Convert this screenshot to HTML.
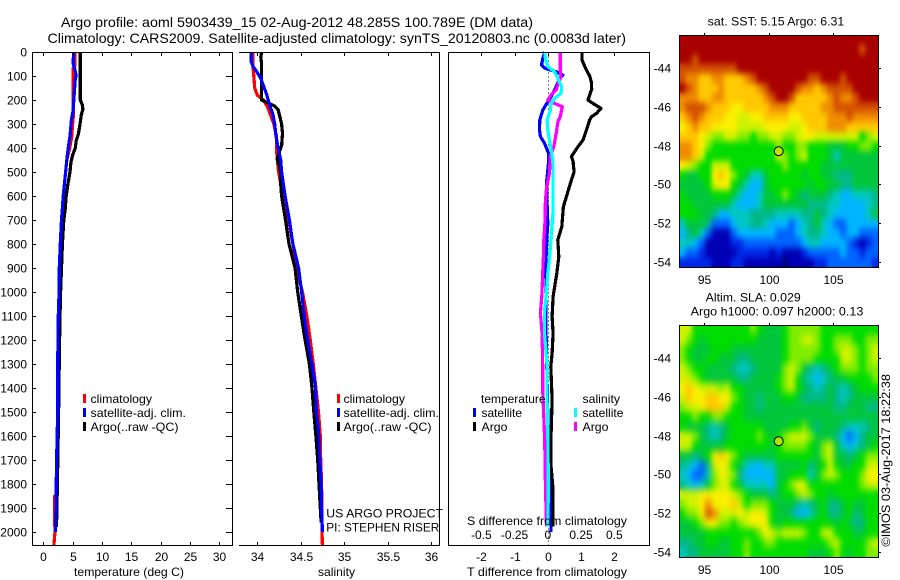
<!DOCTYPE html>
<html>
<head>
<meta charset="utf-8">
<title>Argo profile</title>
<style>
html,body{margin:0;padding:0;background:#fff;}
svg{display:block;}
text{font-family:"Liberation Sans",sans-serif;font-size:12px;fill:#000;}
.t14{font-size:14px;}
</style>
</head>
<body>
<svg id="fig" width="900" height="580" viewBox="0 0 900 580" xmlns="http://www.w3.org/2000/svg">
<defs>
<filter id="soft1" x="0" y="0" width="100%" height="100%" color-interpolation-filters="sRGB"><feGaussianBlur in="SourceGraphic" stdDeviation="2.2 3.1" result="b"/><feMerge><feMergeNode in="SourceGraphic"/><feMergeNode in="b"/></feMerge></filter>
<filter id="soft2" x="0" y="0" width="100%" height="100%" color-interpolation-filters="sRGB"><feGaussianBlur in="SourceGraphic" stdDeviation="2.6 3.8" result="b"/><feMerge><feMergeNode in="SourceGraphic"/><feMergeNode in="b"/></feMerge></filter>
</defs>
<rect width="900" height="580" fill="#fff"/>

<text class="t14" x="61" y="27" textLength="472" lengthAdjust="spacingAndGlyphs">Argo profile: aoml 5903439_15 02-Aug-2012 48.285S 100.789E (DM data)</text>
<text class="t14" x="47.5" y="43" textLength="578.5" lengthAdjust="spacingAndGlyphs">Climatology: CARS2009. Satellite-adjusted climatology: synTS_20120803.nc (0.0083d later)</text>

<g id="panelT"></g>
<g id="panelS"></g>
<g id="panelD"></g>
<g id="mapSST"></g>
<g id="mapSLA"></g>

<text x="74" y="576" textLength="110" lengthAdjust="spacingAndGlyphs">temperature (deg C)</text>
<text x="318" y="576" textLength="37" lengthAdjust="spacingAndGlyphs">salinity</text>
<text x="467" y="576" textLength="160" lengthAdjust="spacingAndGlyphs">T difference from climatology</text>
<text x="467" y="525" textLength="160" lengthAdjust="spacingAndGlyphs">S difference from climatology</text>

<g>
<rect x="83" y="394" width="3" height="9" fill="#f00"/>
<text x="90.5" y="403" textLength="61.5" lengthAdjust="spacingAndGlyphs">climatology</text>
<rect x="83" y="408" width="3" height="9" fill="#00f"/>
<text x="90.5" y="417" textLength="95.5" lengthAdjust="spacingAndGlyphs">satellite-adj. clim.</text>
<rect x="83" y="422" width="3" height="9" fill="#000"/>
<text x="90.5" y="431" textLength="88" lengthAdjust="spacingAndGlyphs">Argo(..raw -QC)</text>
</g>
<g>
<rect x="337" y="394" width="3" height="9" fill="#f00"/>
<text x="343.5" y="403" textLength="61.5" lengthAdjust="spacingAndGlyphs">climatology</text>
<rect x="337" y="408" width="3" height="9" fill="#00f"/>
<text x="343.5" y="417" textLength="95.5" lengthAdjust="spacingAndGlyphs">satellite-adj. clim.</text>
<rect x="337" y="422" width="3" height="9" fill="#000"/>
<text x="343.5" y="431" textLength="88" lengthAdjust="spacingAndGlyphs">Argo(..raw -QC)</text>
</g>
<g>
<text x="481" y="403" textLength="64.5" lengthAdjust="spacingAndGlyphs">temperature</text>
<rect x="473" y="408" width="3" height="9" fill="#00f"/>
<text x="481.5" y="417" textLength="40.5" lengthAdjust="spacingAndGlyphs">satellite</text>
<rect x="473" y="422" width="3" height="9" fill="#000"/>
<text x="481.5" y="431" textLength="26" lengthAdjust="spacingAndGlyphs">Argo</text>
<text x="582.5" y="403" textLength="37.5" lengthAdjust="spacingAndGlyphs">salinity</text>
<rect x="574" y="408" width="3" height="9" fill="#0ff"/>
<text x="582.5" y="417" textLength="41" lengthAdjust="spacingAndGlyphs">satellite</text>
<rect x="574" y="422" width="3" height="9" fill="#f0f"/>
<text x="582.5" y="431" textLength="26" lengthAdjust="spacingAndGlyphs">Argo</text>
</g>

<text x="326.3" y="517.7" textLength="116.7" lengthAdjust="spacingAndGlyphs">US ARGO PROJECT</text>
<text x="326.3" y="531.7" textLength="113" lengthAdjust="spacingAndGlyphs">PI: STEPHEN RISER</text>

<text x="707.7" y="25.7" textLength="136.6" lengthAdjust="spacingAndGlyphs">sat. SST: 5.15 Argo: 6.31</text>
<text x="705.7" y="301.7" textLength="95" lengthAdjust="spacingAndGlyphs">Altim. SLA: 0.029</text>
<text x="690.7" y="315.3" textLength="172.6" lengthAdjust="spacingAndGlyphs">Argo h1000: 0.097 h2000: 0.13</text>
<text transform="translate(890 546.7) rotate(-90)" x="0" y="0" textLength="172.7" lengthAdjust="spacingAndGlyphs">©IMOS 03-Aug-2017 18:22:38</text>
</svg>

<script>
// ---------- axis tick labels ----------
var depthTicks = [0,100,200,300,400,500,600,700,800,900,1000,1100,1200,1300,1400,1500,1600,1700,1800,1900,2000];
var tempTicks = [0,5,10,15,20,25,30];
var salTicks = [34,34.5,35,35.5,36];
var tDiffTicks = [-2,-1,0,1,2];
var sDiffTicks = [-0.5,-0.25,0,0.25,0.5];
var lonTicks = [95,100,105];
var latTicks = [-44,-46,-48,-50,-52,-54];

// ---------- temperature profiles ----------
var tempClimDepth = [0,60,70,100,200,230,260,300,350,400,450,500,550,600,650,700,800,900,1000,1100,1300,1500,1700,1845,1850,1950,2000,2055];
var tempClimValues = [5.35,5.35,5.05,5.1,5.05,5.1,5.15,5.0,4.85,4.5,4.0,3.8,3.6,3.4,3.25,3.1,2.9,2.73,2.7,2.55,2.45,2.45,2.27,2.2,1.95,1.95,2.0,1.8];
var tempArgoDepth = [0,200,220,240,260,300,340,370,400,430,460,500,550,600,650,700,800,900,1000,1100,1250,1500,1800,1980];
var tempArgoValues = [6.31,6.31,6.65,6.75,6.5,6.25,6.0,5.6,5.45,5.0,4.7,4.55,4.2,3.9,3.75,3.5,3.25,3.1,2.95,2.85,2.75,2.6,2.4,2.25];
var tempSatDepth = [0,50,70,100,110,200,250,280,350,400,450,500,550,600,650,700,800,900,1000,1100,1300,1500,1700,1900,2000];
var tempSatValues = [5.15,5.1,5.35,5.6,5.45,5.2,5.05,4.8,4.55,4.25,4.0,3.8,3.6,3.4,3.25,3.1,2.9,2.73,2.7,2.55,2.45,2.45,2.27,2.15,2.05];

// ---------- salinity profiles ----------
var salClimDepth = [0,60,100,150,180,200,230,260,300,350,400,450,500,550,600,700,800,900,1000,1100,1200,1300,1400,1500,1600,1700,1800,2000,2055];
var salClimValues = [33.95,33.95,33.96,33.97,34.0,34.07,34.12,34.15,34.19,34.22,34.22,34.23,34.245,34.27,34.31,34.36,34.41,34.45,34.52,34.57,34.61,34.645,34.675,34.705,34.725,34.73,34.74,34.745,34.75];
var salArgoDepth = [0,20,50,190,200,210,225,240,270,300,340,390,420,445,500,550,600,700,800,900,1000,1100,1200,1300,1400,1500,1600,1700,1800,1900,1960];
var salArgoValues = [34.05,34.04,34.05,34.05,34.05,34.11,34.2,34.24,34.26,34.28,34.29,34.28,34.25,34.23,34.27,34.27,34.28,34.325,34.365,34.434,34.465,34.507,34.55,34.6,34.63,34.65,34.675,34.695,34.71,34.725,34.735];
var salSatDepth = [0,40,60,80,110,140,180,220,260,300,350,400,450,500,600,700,800,900,1000,1100,1200,1300,1400,1500,1600,1700,1800,1900,2000];
var salSatValues = [33.93,33.93,33.95,33.99,34.04,34.07,34.11,34.14,34.18,34.2,34.215,34.24,34.27,34.28,34.32,34.37,34.41,34.476,34.51,34.54,34.58,34.63,34.67,34.68,34.71,34.72,34.735,34.74,34.75];

// ---------- difference profiles ----------
var dTempSatDepth = [0,27,54,68,82,96,110,130,158,186,214,242,283,325,353,380,422,464,533,603,714,783,853,922,1019,1172,1311,1450,1589,1728,1811,1866,2000];
var dTempSatValues = [-0.09,-0.15,-0.19,-0.08,0.25,0.45,0.35,0.30,0.20,0.10,-0.03,-0.15,-0.24,-0.25,-0.22,-0.10,0.02,0.02,-0.03,-0.03,0,-0.03,-0.05,-0.06,-0.05,-0.05,-0.03,-0.01,0.01,0.03,0.06,0.10,0.10];
var dTempArgoDepth = [0,33,50,75,100,126,155,170,200,214,235,255,270,283,325,367,394,436,457,500,547,603,644,728,783,853,922,1019,1103,1172,1256,1311,1450,1589,1728,1811,1978];
var dTempArgoValues = [1.03,1.03,1.08,1.16,1.26,1.31,1.32,1.28,1.21,1.36,1.6,1.47,1.31,1.26,1.16,1.06,0.91,0.71,0.76,0.79,0.68,0.56,0.47,0.42,0.30,0.33,0.27,0.16,0.13,0.16,0.13,0.09,0.13,0.10,0.10,0.15,0.16];
var dSalSatDepth = [0,27,61,82,110,144,172,193,214,242,283,325,367,422,464,603,672,783,853,922,1019,1078,1172,1256,1311,1450,1589,1728,1866,1978];
var dSalSatValues = [-0.023,-0.018,0,0.05,0.076,0.104,0.10,0.05,0.025,0.02,-0.005,0,0.013,0.03,0.038,0.038,0.038,0.025,0.013,0,-0.013,-0.025,-0.025,-0.013,-0.005,-0.005,0,0.003,0.003,0];
var dSalArgoDepth = [0,82,103,130,158,179,200,214,228,270,290,339,394,436,506,561,617,700,783,853,922,1019,1088,1172,1311,1408,1519,1617,1797,1978];
var dSalArgoValues = [0.093,0.093,0.10,0.08,0.063,0.025,0,0.05,0.109,0.093,0.076,0.063,0.045,0.018,0.013,-0.008,-0.018,-0.02,-0.03,-0.033,-0.038,-0.045,-0.056,-0.043,-0.038,-0.038,-0.03,-0.023,-0.018,-0.01];

// ---------- map colour levels (low to high) ----------
var levelColors = ["#000082","#0000b4","#0028e6","#0064ff","#00b4ff","#00c8c0","#00b888","#00c63c","#00dc00","#80ec00","#d0f200","#faf000","#ffc800","#f08c00","#d25000","#a80000"];

// ---------- SST map cells, rows north to south ----------
var sstCells = [
[15,15,15,15,15,15,15,15,15,15,15,15,15,15,15,15,15,15,15,15,15,15,15,15,15,15,15,15,15,15,15],
[15,15,15,15,15,15,15,15,15,15,15,15,15,15,15,15,15,15,15,15,15,15,15,15,15,15,15,15,14,15,15],
[15,15,14,15,15,15,15,15,15,15,15,15,15,15,15,15,15,15,15,15,15,15,15,15,15,15,15,15,15,15,15],
[14,14,14,14,14,14,14,14,14,15,15,15,15,15,15,15,15,15,15,15,15,15,15,15,15,15,15,15,15,15,15],
[14,13,13,12,12,13,13,12,12,12,13,14,15,15,15,15,15,15,15,15,14,14,15,15,15,14,15,15,15,15,15],
[15,14,13,12,12,12,13,12,12,12,12,12,13,14,15,15,15,15,14,13,13,12,13,14,14,14,14,15,15,15,15],
[13,13,13,12,12,13,13,12,12,12,12,12,12,13,14,15,15,14,12,12,12,12,12,13,14,13,13,14,15,15,15],
[13,14,14,14,13,12,12,12,11,11,12,12,12,12,13,13,13,12,12,12,12,12,13,13,14,14,14,14,14,14,14],
[12,13,14,13,12,12,12,11,11,10,10,11,11,12,12,12,12,11,11,12,12,12,12,13,13,13,14,13,13,13,13],
[11,12,13,12,12,11,11,11,11,10,10,10,10,11,11,11,11,10,10,11,12,12,12,13,13,13,12,12,12,12,12],
[12,12,12,11,10,9,9,10,10,9,9,8,9,9,10,10,9,9,10,11,11,10,10,10,10,10,10,10,8,9,10],
[13,13,12,11,9,8,8,8,8,8,8,8,8,8,8,9,8,8,9,9,8,8,8,7,7,7,8,8,9,9,8],
[13,13,12,10,8,8,8,8,8,8,8,8,8,8,8,10,9,8,9,10,8,8,8,7,5,7,7,7,7,7,7],
[11,10,9,8,8,10,10,10,8,8,8,8,8,8,8,8,9,8,8,8,8,8,7,7,7,7,7,7,7,7,7],
[8,7,7,8,8,11,12,11,9,8,7,5,5,7,8,8,8,8,8,7,8,8,7,7,6,6,6,7,7,7,7],
[7,7,7,7,8,10,11,11,8,7,5,4,4,7,8,8,8,8,8,8,7,8,8,7,7,6,6,7,7,7,7],
[8,7,7,7,7,8,8,8,7,5,4,4,5,7,7,8,9,8,7,6,7,7,7,6,5,4,4,5,5,5,6],
[8,8,7,7,7,7,7,7,5,4,4,4,5,7,7,7,7,7,7,7,6,6,6,5,5,4,4,4,4,5,6],
[8,8,8,7,7,6,4,4,5,5,5,6,6,6,6,5,5,5,5,6,6,7,6,5,4,4,4,4,4,5,7],
[5,7,7,7,6,3,3,3,4,5,5,6,6,5,4,4,4,3,4,5,6,7,5,4,3,3,4,4,4,4,4],
[4,6,7,5,3,1,1,1,3,4,4,4,4,4,4,3,3,3,4,5,6,6,5,4,4,3,4,4,3,3,3],
[5,5,4,3,1,1,1,1,2,2,3,3,3,3,3,3,3,3,3,4,5,5,4,4,4,4,3,2,1,2,3],
[4,3,3,2,1,1,1,1,1,2,2,2,2,2,1,2,1,1,1,2,3,3,3,3,3,4,3,3,2,3,3],
[2,2,2,2,2,1,1,1,2,2,1,1,1,1,1,1,0,1,1,1,1,2,2,3,3,3,3,3,3,3,2]
];

// ---------- SLA map cells, rows north to south ----------
var slaCells = [
[10,10,8,8,8,8,8,8,8,8,8,9,8,7,7,7,8,9,9,9,9,9,8,8,8,8,8,8,8,8,8],
[10,9,8,7,8,8,8,8,8,8,8,8,7,7,7,7,8,9,9,10,10,9,8,8,9,9,9,8,8,9,9],
[9,8,7,7,7,8,8,8,7,7,7,7,7,7,7,7,8,9,9,9,9,9,8,8,9,10,10,9,8,9,10],
[9,8,7,7,8,8,7,7,7,6,6,7,7,7,7,7,8,9,9,9,9,8,8,8,8,10,10,9,8,9,10],
[10,9,8,8,7,7,7,7,6,5,5,6,7,7,7,7,9,10,9,7,6,5,6,7,8,9,9,9,8,9,9],
[10,10,9,8,7,7,7,7,7,6,6,7,7,7,7,8,9,10,8,6,5,4,5,6,7,7,8,8,8,8,9],
[11,12,11,10,10,10,9,10,8,8,7,7,7,7,7,8,9,10,8,7,6,5,6,7,6,5,6,7,8,8,8],
[10,12,11,11,12,12,11,11,9,8,7,7,6,7,7,7,8,8,7,6,6,6,6,7,6,5,6,7,7,7,7],
[9,10,10,11,12,12,12,10,8,8,7,7,6,7,7,7,7,7,7,7,7,7,7,7,6,6,7,7,7,6,6],
[8,8,9,8,8,9,9,8,8,8,7,7,7,7,7,7,7,7,7,7,7,7,7,7,7,7,7,7,7,7,7],
[8,7,7,7,6,5,6,7,8,8,8,8,8,7,7,7,7,8,8,9,7,6,7,7,7,6,5,5,5,6,7],
[10,10,9,7,6,5,6,7,8,8,8,8,9,8,7,8,9,10,10,10,9,7,7,7,6,4,3,4,6,7,7],
[10,10,8,7,7,7,7,8,8,8,8,8,8,8,7,8,9,9,9,9,8,7,9,10,7,5,4,5,6,7,8],
[7,7,6,7,8,11,12,11,9,8,7,7,7,7,7,8,8,8,8,8,8,7,9,10,7,7,6,7,8,9,9],
[6,5,4,3,6,10,11,10,8,7,5,4,4,5,5,7,7,7,7,8,6,7,8,10,8,7,7,8,8,10,10],
[5,4,3,3,5,9,11,10,9,6,4,4,4,4,4,7,7,8,8,8,5,7,9,10,9,8,8,8,9,11,11],
[6,5,4,5,7,9,10,10,8,7,5,5,5,5,4,7,8,9,11,10,8,8,8,8,8,8,8,8,9,10,10],
[10,10,10,11,11,11,11,11,10,9,8,7,7,7,6,7,8,8,9,10,9,8,8,7,8,8,8,8,8,8,8],
[9,10,10,11,13,11,11,11,12,10,8,9,9,9,8,7,7,7,6,5,6,7,8,6,6,7,8,7,7,8,8],
[8,9,9,11,14,13,10,10,10,11,10,11,11,10,8,7,7,6,4,4,5,7,8,6,6,7,8,6,7,8,8],
[7,7,8,9,11,11,9,9,8,9,10,11,11,11,8,7,8,8,8,8,8,8,8,8,7,8,7,6,6,8,8],
[7,7,7,7,8,8,8,8,8,8,8,8,9,11,10,9,10,10,10,9,8,8,10,10,8,8,8,7,7,8,8],
[6,6,7,7,8,8,7,7,8,8,9,8,8,9,9,8,8,8,8,8,8,8,8,9,10,8,8,8,8,9,10],
[5,6,6,7,7,7,7,7,8,8,9,8,8,8,8,8,8,8,8,8,7,7,7,8,9,8,7,8,8,9,9]
];
var floatLon = 100.789;
var floatLat = -48.285;

var NS = "http://www.w3.org/2000/svg";
function make(tag, parent, attrs) {
  var el = document.createElementNS(NS, tag);
  for (var k in attrs) el.setAttribute(k, attrs[k]);
  parent.appendChild(el);
  return el;
}
function linear(d0, d1, r0, r1) {
  return function (v) { return r0 + (v - d0) * (r1 - r0) / (d1 - d0); };
}

// shared depth axis
var yDepth = linear(0, 2000, 52, 532);
var plotTop = 52.5, plotBottom = 545.5;

function hLine(parent, x1, x2, y) {
  var el = make("line", parent, {x1: x1, x2: x2, y1: y, y2: y, stroke: "#000", "stroke-width": 1, "shape-rendering": "crispEdges"});
  
  
  return el;
}
function vLine(parent, x, y1, y2) {
  var el = make("line", parent, {x1: x, x2: x, y1: y1, y2: y2, stroke: "#000", "stroke-width": 1, "shape-rendering": "crispEdges"});
  
  
  return el;
}
function tickMark(parent, x1, y1, x2, y2) {
  var el = make("line", parent, {x1: x1, y1: y1, x2: x2, y2: y2, stroke: "#000", "stroke-width": 1, "shape-rendering": "crispEdges"});
  
  
  return el;
}
function tickText(parent, str, x, y, anchor) {
  var el = make("text", parent, {x: x, y: y, "text-anchor": anchor});
  el.textContent = str;
  
  
  return el;
}
function profile(parent, depths, values, xScale, color, name) {
  var pts = [];
  for (var i = 0; i < depths.length; i++) {
    pts.push(xScale(values[i]).toFixed(1) + "," + yDepth(depths[i]).toFixed(1));
  }
  var el = make("polyline", parent, {points: pts.join(" "), fill: "none", stroke: color, "stroke-width": 3.2, "stroke-linejoin": "round", "shape-rendering": "crispEdges"});
  
  
  return el;
}

// temperature panel
var gT = document.getElementById("panelT");
var xTemp = linear(0, 30, 43.3, 219.3);
profile(gT, tempClimDepth, tempClimValues, xTemp, "#f00", "temperature-climatology-line");
profile(gT, tempArgoDepth, tempArgoValues, xTemp, "#000", "temperature-argo-line");
profile(gT, tempSatDepth, tempSatValues, xTemp, "#00f", "temperature-satellite-line");
hLine(gT, 32, 233, plotTop);
hLine(gT, 32, 233, plotBottom);
vLine(gT, 32.5, plotTop, plotBottom);
vLine(gT, 232.5, plotTop, plotBottom);
depthTicks.forEach(function (d) {
  var y = Math.round(yDepth(d)) + 0.5;
  tickMark(gT, 33, y, 36, y);
  tickMark(gT, 226, y, 232, y);
  tickText(gT, String(d), 27, y + 4, "end");
});
tempTicks.forEach(function (t) {
  var x = Math.round(xTemp(t)) + 0.5;
  tickMark(gT, x, 53, x, 56);
  tickMark(gT, x, 542, x, 545);
  tickText(gT, String(t), x, 561, "middle");
});

// salinity panel
var gS = document.getElementById("panelS");
var xSal = linear(34, 36, 257.3, 431);
profile(gS, salClimDepth, salClimValues, xSal, "#f00", "salinity-climatology-line");
profile(gS, salArgoDepth, salArgoValues, xSal, "#000", "salinity-argo-line");
profile(gS, salSatDepth, salSatValues, xSal, "#00f", "salinity-satellite-line");
hLine(gS, 239, 440, plotTop);
hLine(gS, 239, 440, plotBottom);
vLine(gS, 439.5, plotTop, plotBottom);
salTicks.forEach(function (s) {
  var x = Math.round(xSal(s)) + 0.5;
  tickMark(gS, x, 53, x, 56);
  tickMark(gS, x, 542, x, 545);
  tickText(gS, String(s), x, 561, "middle");
});

// difference panel
var gD = document.getElementById("panelD");
var xDT = linear(-2, 2, 481.3, 614.3);
var xDS = linear(-0.5, 0.5, 481.3, 614.3);
var dotted = make("line", gD, {x1: Math.round(xDT(0)) + 0.5, x2: Math.round(xDT(0)) + 0.5, y1: plotTop, y2: plotBottom, stroke: "#000", "stroke-width": 1, "stroke-dasharray": "1 3", "shape-rendering": "crispEdges"});


profile(gD, dTempSatDepth, dTempSatValues, xDT, "#00f", "t-difference-satellite-line");
profile(gD, dTempArgoDepth, dTempArgoValues, xDT, "#000", "t-difference-argo-line");
profile(gD, dSalArgoDepth, dSalArgoValues, xDS, "#f0f", "s-difference-argo-line");
profile(gD, dSalSatDepth, dSalSatValues, xDS, "#0ff", "s-difference-satellite-line");
hLine(gD, 448, 650, plotTop);
hLine(gD, 448, 650, plotBottom);
vLine(gD, 448.5, plotTop, plotBottom);
vLine(gD, 649.5, plotTop, plotBottom);
tDiffTicks.forEach(function (t) {
  var x = Math.round(xDT(t)) + 0.5;
  tickMark(gD, x, 53, x, 56);
  tickText(gD, String(t), x, 561, "middle");
});
sDiffTicks.forEach(function (s) {
  tickText(gD, String(s), xDS(s), 539, "middle");
});

// maps
var xLon = linear(95, 105, 704.3, 832.8);
function drawMap(groupId, cells, top, filterId, circleFill) {
  var g = document.getElementById(groupId);
  var yLat = linear(-44, -54, top + 33.3, top + 226.8);
  var lonStart = 93.05, latStart = -42.28, step = 0.5;
  var cellGroup = make("g", g, {filter: "url(#" + filterId + ")"});
  
  
  cells.forEach(function (row, r) {
    row.forEach(function (level, c) {
      var x0 = xLon(lonStart + c * step), x1 = xLon(lonStart + (c + 1) * step);
      var y0 = yLat(latStart - r * step), y1 = yLat(latStart - (r + 1) * step);
      var cell = make("rect", cellGroup, {x: x0.toFixed(2), y: y0.toFixed(2), width: (x1 - x0 + 0.4).toFixed(2), height: (y1 - y0 + 0.4).toFixed(2), fill: levelColors[Math.max(0, Math.min(levelColors.length - 1, Math.round(level)))], "shape-rendering": "crispEdges"});
      
      
    });
  });
  var mx0 = 679, mx1 = 878, my0 = top, my1 = top + 232;
  var cover = make("rect", g, {x: 878.5, y: my0, width: 10, height: 234, fill: "#fff"});
  
  
  hLine(g, mx0, mx1 + 1, my0 + 0.5);
  hLine(g, mx0, mx1 + 1, my1 + 0.5);
  vLine(g, mx0 + 0.5, my0, my1 + 1);
  vLine(g, mx1 + 0.5, my0, my1 + 1);
  lonTicks.forEach(function (lon) {
    var x = Math.round(xLon(lon)) + 0.5;
    tickMark(g, x, my0 - 2, x, my0);
    tickText(g, String(lon), x, my1 + 17, "middle");
  });
  latTicks.forEach(function (lat) {
    var y = Math.round(yLat(lat)) + 0.5;
    tickMark(g, mx1 + 1, y, mx1 + 3, y);
    tickText(g, String(lat), 671, y + 4, "end");
  });
  var c = make("circle", g, {cx: xLon(floatLon), cy: yLat(floatLat), r: 4.5, fill: circleFill, stroke: "#000", "stroke-width": 1});
  
  
}
drawMap("mapSST", sstCells, 35, "soft1", "#b4e600");
drawMap("mapSLA", slaCells, 325, "soft2", "#aae600");
</script>
</body>
</html>
